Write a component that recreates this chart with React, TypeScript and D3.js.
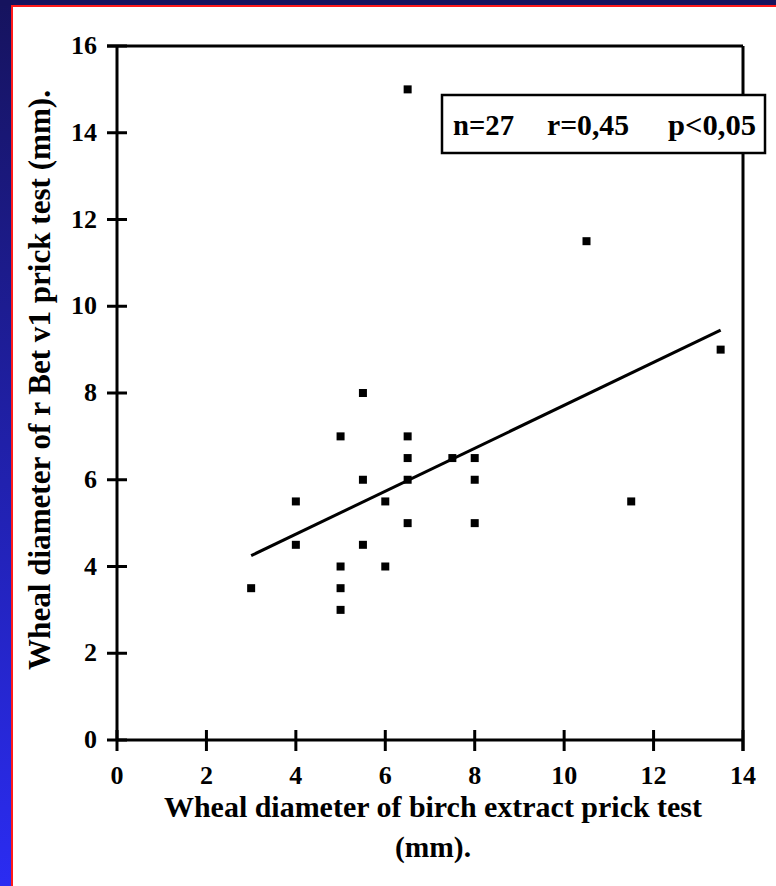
import React from "react";
import * as d3 from "d3";

const xValues = [3, 4, 4, 5, 5, 5, 5, 5.5, 5.5, 5.5, 6, 6, 6.5, 6.5, 6.5, 6.5, 6.5, 7.5, 8, 8, 8, 10.5, 11.5, 13.5];
const yValues = [3.5, 5.5, 4.5, 7, 4, 3.5, 3, 8, 6, 4.5, 5.5, 4, 15, 7, 6.5, 6, 5, 6.5, 6.5, 6, 5, 11.5, 5.5, 9];
const fitX = [3, 13.5];
const fitY = [4.25, 9.45];
const xTicks = [0, 2, 4, 6, 8, 10, 12, 14];
const yTicks = [0, 2, 4, 6, 8, 10, 12, 14, 16];
const statTexts = ["n=27", "r=0,45", "p<0,05"];
const xLabel1 = "Wheal diameter of birch extract prick test";
const xLabel2 = "(mm).";
const yLabel = "Wheal diameter of r Bet v1 prick test (mm).";

const W = 776;
const H = 886;
const FONT = "'Liberation Serif', 'Times New Roman', serif";

export default function App() {
  const x = d3.scaleLinear().domain([0, 14]).range([117, 743]);
  const y = d3.scaleLinear().domain([0, 16]).range([740, 46]);
  const line = d3.line<[number, number]>().x((d) => x(d[0])).y((d) => y(d[1]));
  const fitPts: [number, number][] = fitX.map((v, i) => [v, fitY[i]]);
  const ms = 8;
  const statX = [453, 547, 668];
  const statW = [61, 82, 88];

  return (
    <svg
      width={W}
      height={H}
      style={{ position: "absolute", left: 0, top: 0, display: "block" }}
      fontFamily={FONT}
    >
      <defs>
        <linearGradient id="leftGrad" x1="0" y1="0" x2="0" y2="1">
          <stop offset="0" stopColor="#16135e" />
          <stop offset="0.5" stopColor="#2020a8" />
          <stop offset="1" stopColor="#2b2cf2" />
        </linearGradient>
      </defs>
      <rect x={0} y={0} width={W} height={H} fill="url(#leftGrad)" />
      <rect x={0} y={0} width={W} height={6} fill="#16135e" />
      <rect x={11} y={5} width={W} height={H} fill="#ff1a1a" />
      <rect x={13} y={7} width={W} height={H} fill="#ffffff" />

      {/* axes frame */}
      <g stroke="#000" strokeWidth={3} fill="none">
        <line x1={x(0)} y1={y(0)} x2={x(14)} y2={y(0)} />
        <line x1={x(0)} y1={y(0)} x2={x(0)} y2={y(16)} />
        <line x1={x(0) - 10} y1={y(16)} x2={x(14)} y2={y(16)} />
        <line x1={x(14)} y1={y(16)} x2={x(14)} y2={y(0) + 11} />
        {yTicks.map((t) => (
          <line key={"yt" + t} x1={x(0) - 10} x2={x(0) + 10} y1={y(t)} y2={y(t)} />
        ))}
        {xTicks.map((t) => (
          <line key={"xt" + t} x1={x(t)} x2={x(t)} y1={y(0) - 10} y2={y(0) + 11} />
        ))}
      </g>

      {/* tick labels */}
      <g fontWeight="bold" fontSize={26} fill="#000">
        {yTicks.map((t) => (
          <text key={"yl" + t} x={x(0) - 20} y={y(t) + 8} textAnchor="end">
            {t}
          </text>
        ))}
        {xTicks.map((t) => (
          <text key={"xl" + t} x={x(t)} y={y(0) + 44} textAnchor="middle">
            {t}
          </text>
        ))}
      </g>

      {/* regression line */}
      <path d={line(fitPts) || ""} stroke="#000" strokeWidth={3} fill="none" />

      {/* points */}
      <g fill="#000">
        {xValues.map((v, i) => (
          <rect key={"p" + i} x={x(v) - ms / 2} y={y(yValues[i]) - ms / 2} width={ms} height={ms} />
        ))}
      </g>

      {/* stats box */}
      <rect x={442} y={95} width={323} height={58} fill="#fff" stroke="#000" strokeWidth={2.5} />
      <g fontWeight="bold" fontSize={30} fill="#000">
        {statTexts.map((s, i) => (
          <text key={"s" + i} x={statX[i]} y={135} textLength={statW[i]} lengthAdjust="spacingAndGlyphs">
            {s}
          </text>
        ))}
      </g>

      {/* axis titles */}
      <g fontWeight="bold" fill="#000">
        <text
          x={433}
          y={817}
          textAnchor="middle"
          fontSize={30}
          textLength={538}
          lengthAdjust="spacingAndGlyphs"
        >
          {xLabel1}
        </text>
        <text x={433} y={857} textAnchor="middle" fontSize={30} textLength={76} lengthAdjust="spacingAndGlyphs">
          {xLabel2}
        </text>
        <text
          transform="translate(50,380) rotate(-90)"
          textAnchor="middle"
          fontSize={31}
          textLength={580}
          lengthAdjust="spacingAndGlyphs"
        >
          {yLabel}
        </text>
      </g>
    </svg>
  );
}
